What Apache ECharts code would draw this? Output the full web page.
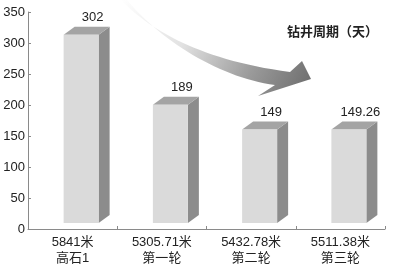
<!DOCTYPE html>
<html>
<head>
<meta charset="utf-8">
<script src="https://cdn.jsdelivr.net/npm/echarts@6/dist/echarts.min.js"></script>
<style>html,body{margin:0;padding:0;background:#fff;}#c{width:400px;height:266px;}</style>
</head>
<body>
<div id="c"></div>
<script>
var depths = ['5841米', '5305.71米', '5432.78米', '5511.38米'];
var names = ['高石1', '第一轮', '第二轮', '第三轮'];
var values = [302, 189, 149, 149.26];
var yTicks = { min: 0, max: 350, interval: 50 };
var titleText = '钻井周期（天）';

var categories = depths.map(function (d, i) { return d + '\n' + names[i]; });
var seriesData = values.map(function (v, i) { return [i, v]; });

// decorative arrow outline (pixel path)
function cubic(p0, p1, p2, p3, n) {
  var pts = [];
  for (var k = 0; k <= n; k++) {
    var t = k / n, u = 1 - t;
    pts.push([
      u * u * u * p0[0] + 3 * u * u * t * p1[0] + 3 * u * t * t * p2[0] + t * t * t * p3[0],
      u * u * u * p0[1] + 3 * u * u * t * p1[1] + 3 * u * t * t * p2[1] + t * t * t * p3[1]
    ]);
  }
  return pts;
}
var arrowPts = cubic([121, 0], [150, 30], [200, 60], [290, 72], 30)
  .concat([[302, 61], [311, 79], [258, 96]])
  .concat(cubic([275, 85], [220, 78], [160, 40], [127, 0], 30));

var chart = echarts.init(document.getElementById('c'), null, { renderer: 'canvas' });
var font = '"Liberation Sans", Arial, "Noto Sans CJK SC", sans-serif';

chart.setOption({
  animation: false,
  backgroundColor: '#fff',
  title: {
    text: titleText, left: 287, top: 25, padding: 0,
    textStyle: { fontSize: 13, fontWeight: 'bold', fontFamily: '"Noto Sans CJK SC", sans-serif', color: '#222' }
  },
  grid: { left: 28, right: 15, top: 12, bottom: 34 },
  xAxis: {
    type: 'category', data: categories,
    axisLine: { lineStyle: { color: '#8a8a8a', width: 1 } },
    axisTick: { show: true, inside: true, length: 3, lineStyle: { color: '#8a8a8a' } },
    axisLabel: { margin: 5, fontSize: 13, lineHeight: 16, color: '#222', fontFamily: font }
  },
  yAxis: {
    type: 'value', min: yTicks.min, max: yTicks.max, interval: yTicks.interval,
    axisLine: { show: true, lineStyle: { color: '#8a8a8a', width: 1 } },
    axisTick: { show: true, inside: true, length: 3, lineStyle: { color: '#8a8a8a' } },
    splitLine: { show: false },
    axisLabel: { margin: 3, fontSize: 13, color: '#222', fontFamily: font }
  },
  graphic: [{
    type: 'polygon', z: 1,
    shape: { points: arrowPts },
    style: {
      fill: new echarts.graphic.LinearGradient(0, 0, 1, 1, [
        { offset: 0, color: '#ffffff' },
        { offset: 0.35, color: '#e2e2e2' },
        { offset: 0.7, color: '#9a9a9a' },
        { offset: 1, color: '#6a6a6a' }
      ])
    }
  }],
  series: [{
    type: 'custom',
    data: seriesData,
    encode: { x: 0, y: 1 },
    renderItem: function (params, api) {
      var i = api.value(0), v = api.value(1);
      var top = api.coord([i, v]);
      var base = api.coord([i, 0]);
      var cx = top[0];
      var x0 = cx - 9, x1 = cx + 26, dx = 11, dy = 8;
      var yb = base[1] - 6, yt = top[1] - 7;
      return {
        type: 'group',
        children: [
          { type: 'polygon', shape: { points: [[x1, yb], [x1 + dx, yb - dy], [x1 + dx, yt - dy], [x1, yt]] }, style: { fill: '#8c8c8c' } },
          { type: 'polygon', shape: { points: [[x0, yt], [x1, yt], [x1 + dx, yt - dy], [x0 + dx, yt - dy]] }, style: { fill: '#a4a4a4' } },
          { type: 'rect', shape: { x: x0, y: yt, width: x1 - x0, height: yb - yt }, style: { fill: '#dadada' } },
          { type: 'text', style: { text: String(v), x: cx + 20, y: top[1] - 24, align: 'center', verticalAlign: 'middle', font: '13px ' + font, fill: '#222' } }
        ]
      };
    }
  }]
});
</script>
</body>
</html>
